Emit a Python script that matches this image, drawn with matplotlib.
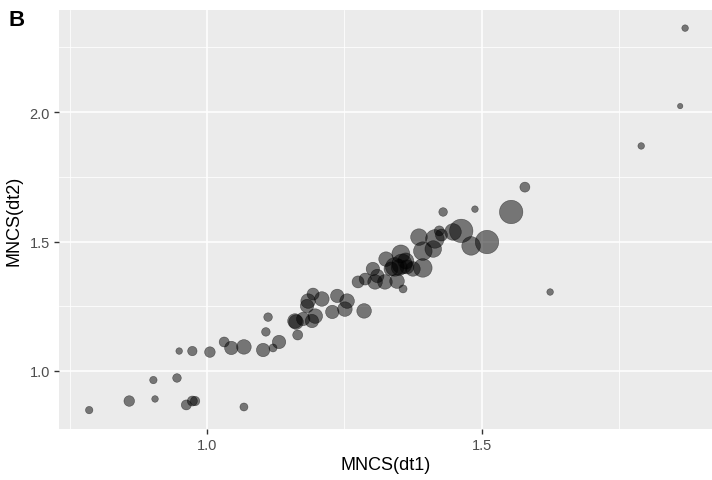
import numpy as np
import matplotlib.pyplot as plt
from matplotlib.ticker import MultipleLocator

plt.rcParams['font.family'] = ['Liberation Sans', 'DejaVu Sans']

# MNCS in the two periods, one entry per unit; weight drives point size
mncs_dt1 = [0.785, 0.858, 0.905, 0.902, 0.945, 0.962, 0.973, 0.978, 1.067, 0.949,
            0.973, 1.005, 1.031, 1.044, 1.067, 1.102, 1.120, 1.131, 1.107, 1.111,
            1.162, 1.165, 1.579, 1.554, 1.430, 1.488, 1.510, 1.481, 1.463, 1.448,
            1.423, 1.415, 1.386, 1.393, 1.412, 1.353, 1.393, 1.375, 1.364, 1.355,
            1.342, 1.326, 1.335, 1.346, 1.357, 1.324, 1.306, 1.302, 1.310, 1.288,
            1.275, 1.286, 1.255, 1.237, 1.251, 1.228, 1.209, 1.193, 1.184, 1.182,
            1.197, 1.191, 1.175, 1.160, 1.871, 1.862, 1.791, 1.625, 1.350, 1.362,
            1.427]
mncs_dt2 = [0.849, 0.884, 0.892, 0.965, 0.973, 0.869, 0.884, 0.884, 0.861, 1.077,
            1.077, 1.073, 1.112, 1.089, 1.093, 1.081, 1.089, 1.112, 1.151, 1.208,
            1.189, 1.139, 1.710, 1.614, 1.614, 1.625, 1.498, 1.483, 1.541, 1.537,
            1.541, 1.510, 1.517, 1.463, 1.471, 1.452, 1.398, 1.394, 1.402, 1.413,
            1.402, 1.432, 1.394, 1.347, 1.317, 1.344, 1.344, 1.394, 1.367, 1.355,
            1.344, 1.232, 1.270, 1.290, 1.239, 1.228, 1.278, 1.297, 1.270, 1.251,
            1.212, 1.193, 1.201, 1.193, 2.324, 2.023, 1.869, 1.305, 1.400, 1.425,
            1.525]
weight = [3.7, 5.3, 3.3, 3.7, 4.3, 5.0, 5.0, 4.7, 4.0, 3.3,
          4.7, 5.3, 5.0, 6.7, 7.3, 6.7, 4.0, 6.7, 4.3, 4.3,
          7.3, 5.0, 5.0, 11.7, 4.3, 3.3, 11.7, 9.3, 11.7, 8.3,
          5.0, 9.3, 8.3, 9.3, 8.3, 9.0, 9.3, 7.3, 7.0, 10.0,
          9.3, 7.3, 7.0, 7.3, 4.0, 7.3, 7.3, 6.7, 6.7, 6.0,
          6.0, 7.3, 7.3, 6.7, 7.3, 6.7, 7.3, 6.0, 7.3, 6.7,
          7.3, 6.7, 6.7, 7.3, 3.3, 2.7, 3.3, 3.3, 8.0, 8.0,
          6.0]

fig = plt.figure(figsize=(7.12, 4.81), dpi=100)
ax = fig.add_axes([59 / 712, 51 / 481, 653 / 712, 419 / 481])

ax.set_facecolor('#EBEBEB')
for s in ax.spines.values():
    s.set_visible(False)

sizes = (1.44 * np.array(weight)) ** 2
ax.scatter(mncs_dt1, mncs_dt2, s=sizes, c='black', alpha=0.5,
           edgecolors='black', linewidths=0.4, zorder=3)

ax.set_xlim(0.730, 1.920)
ax.set_ylim(0.776, 2.394)

ax.xaxis.set_major_locator(MultipleLocator(0.5))
ax.yaxis.set_major_locator(MultipleLocator(0.5))
ax.xaxis.set_minor_locator(MultipleLocator(0.25))
ax.yaxis.set_minor_locator(MultipleLocator(0.25))
ax.xaxis.set_major_formatter(plt.FuncFormatter(lambda v, p: f'{v:.1f}'))
ax.yaxis.set_major_formatter(plt.FuncFormatter(lambda v, p: f'{v:.1f}'))

ax.grid(which='major', color='white', linewidth=1.1, zorder=0)
ax.grid(which='minor', color='white', linewidth=0.55, zorder=0)
ax.set_axisbelow(True)

ax.tick_params(which='major', length=3.5, width=1.0, color='#333333',
               labelcolor='#4D4D4D', labelsize=10.5, pad=3)
ax.tick_params(which='minor', length=0)

ax.set_xlabel('MNCS(dt1)', fontsize=13, labelpad=3)
ax.set_ylabel('MNCS(dt2)', fontsize=13, labelpad=5)

fig.text(8 / 712, 1 - 10 / 481, 'B', fontsize=16, fontweight='bold', va='top', ha='left')

fig.savefig('out.png', dpi=100)
